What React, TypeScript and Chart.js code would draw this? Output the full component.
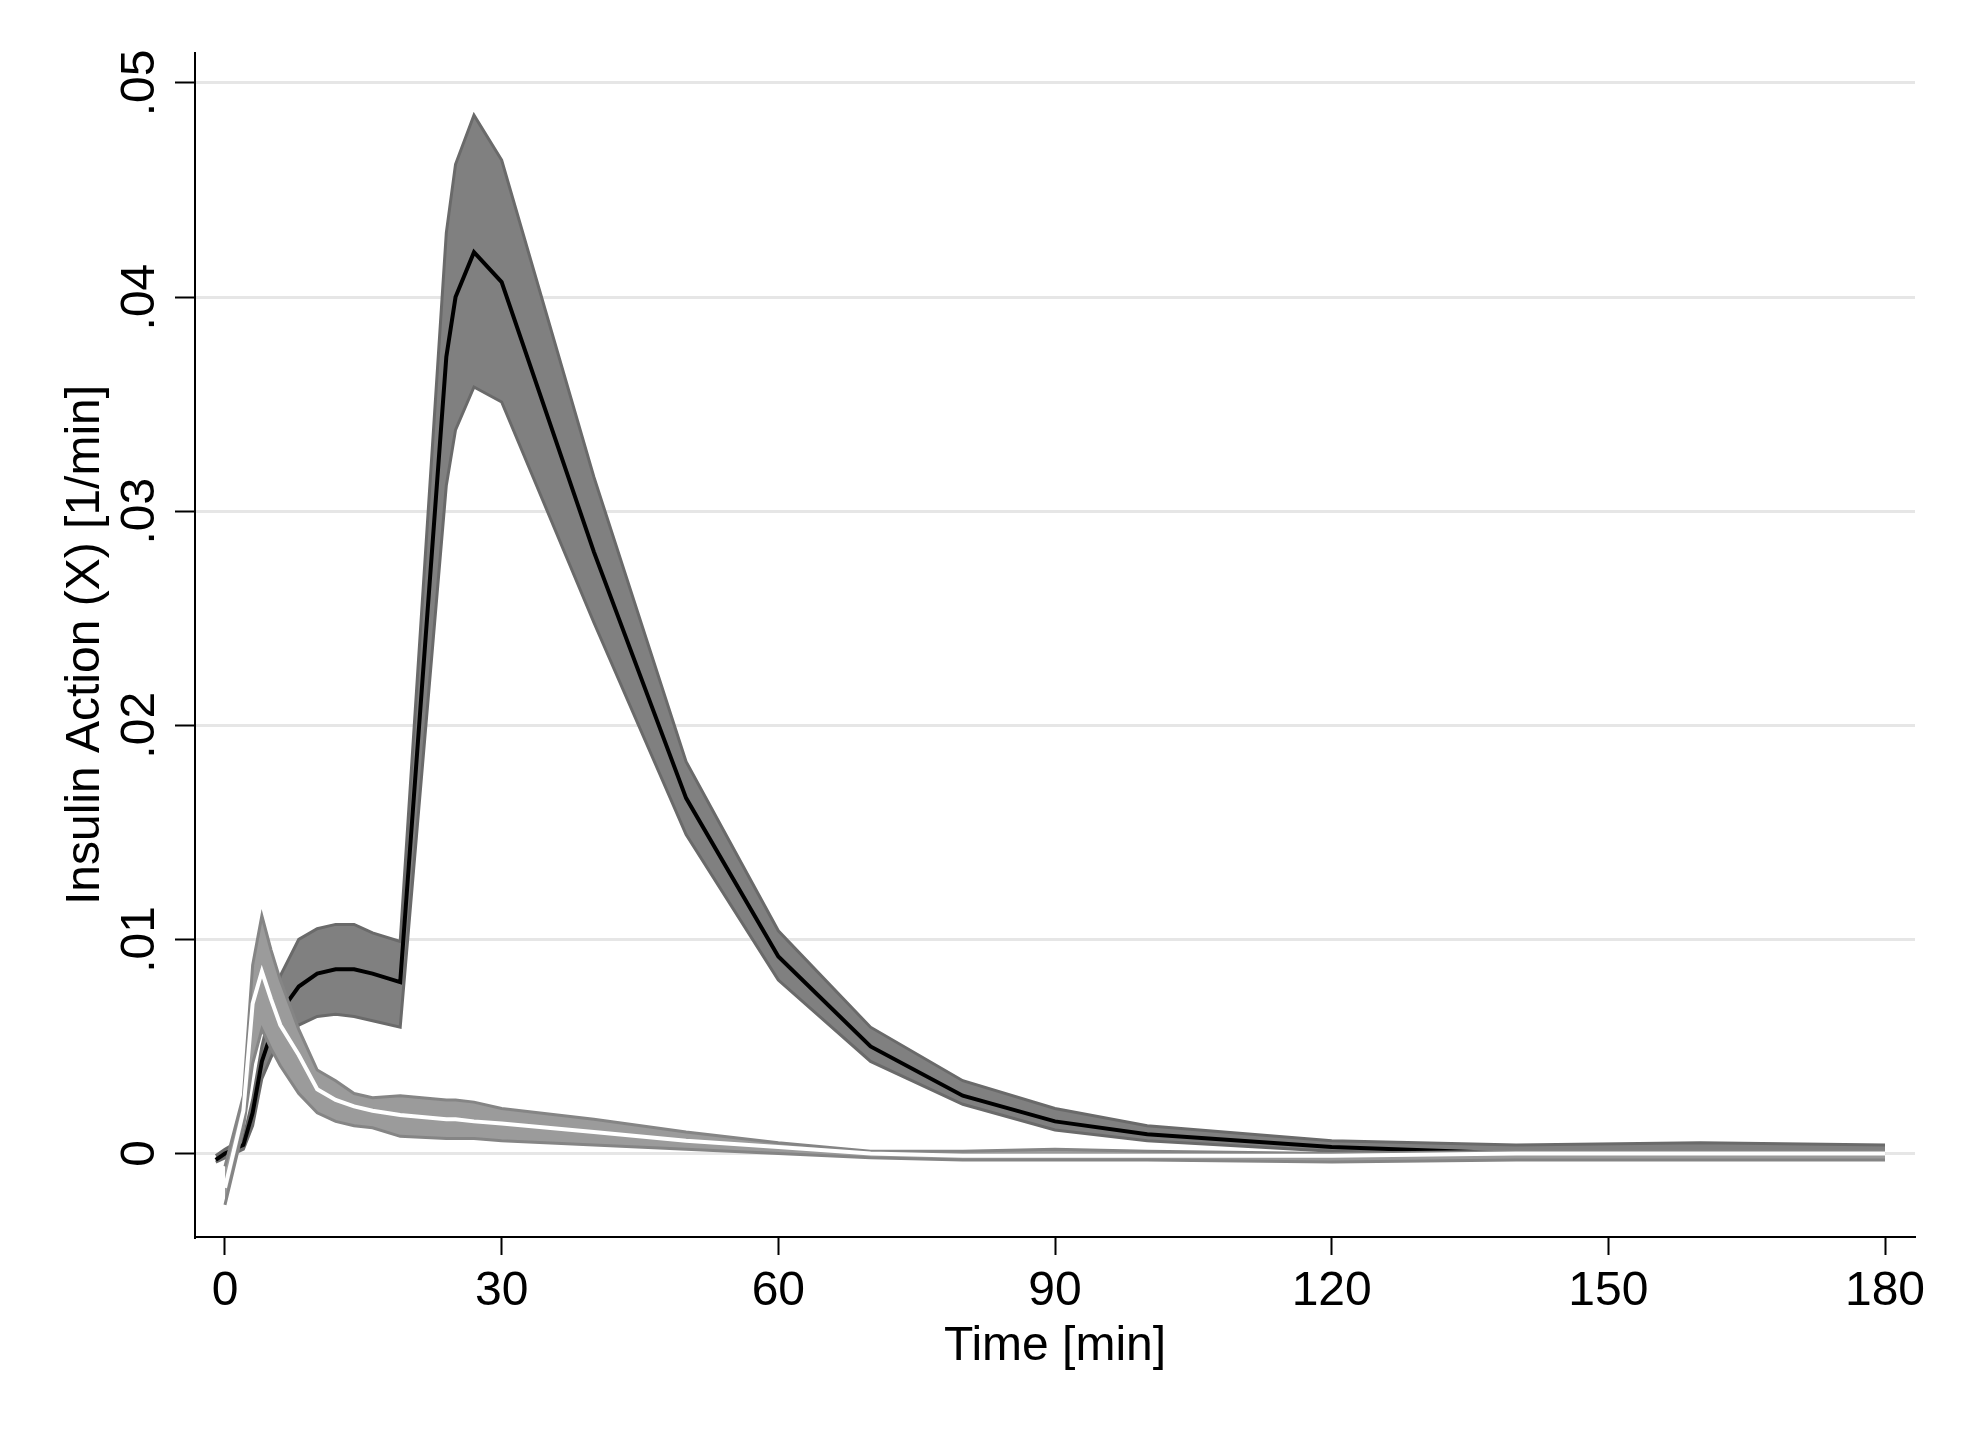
import { useEffect, useRef } from "react"
import { Chart, registerables } from "chart.js"

Chart.register(...registerables)

// sampling times [min]
const darkTimes = [-1, 0, 2, 3, 4, 5, 6, 8, 10, 12, 14, 16, 19, 24, 25, 27, 30, 40, 50, 60, 70, 80, 90, 100, 120, 140, 160, 180]
const lightTimes = [0, 2, 3, 4, 5, 6, 8, 10, 12, 14, 16, 19, 24, 25, 27, 30, 40, 50, 60, 70, 80, 90, 100, 120, 140, 160, 180]

// insulin action X [1/min], dark group (black line, dark band)
const darkMean = [-0.0003, 0.0, 0.0004, 0.0019, 0.0043, 0.0056, 0.0066, 0.0078, 0.0084, 0.0086, 0.0086, 0.0084, 0.008, 0.0372, 0.04, 0.0421, 0.0407, 0.0281, 0.0166, 0.0092, 0.005, 0.0027, 0.0015, 0.0009, 0.0003, 0.0, 0.0, 0.0]
const darkUpper = [-0.0001, 0.0002, 0.0007, 0.0025, 0.005, 0.0068, 0.0083, 0.01, 0.0105, 0.0107, 0.0107, 0.0103, 0.0099, 0.043, 0.0462, 0.0485, 0.0464, 0.0316, 0.0183, 0.0104, 0.0059, 0.0034, 0.0021, 0.0013, 0.0006, 0.0004, 0.0005, 0.0004]
const darkLower = [-0.0004, -0.0002, 0.0002, 0.0013, 0.0035, 0.0045, 0.0052, 0.006, 0.0064, 0.0065, 0.0064, 0.0062, 0.0059, 0.0312, 0.0338, 0.0358, 0.0351, 0.0248, 0.0149, 0.0081, 0.0043, 0.0023, 0.0011, 0.0006, 0.0001, -0.0001, -0.0001, -0.0001]

// light group (white line, light band)
const lightMean = [-0.0016, 0.002, 0.007, 0.0085, 0.0072, 0.006, 0.0046, 0.003, 0.0025, 0.0022, 0.002, 0.0018, 0.0016, 0.0016, 0.0015, 0.0014, 0.001, 0.0006, 0.0003, 0.0, -0.0001, -0.0001, -0.0001, -0.0001, 0.0, 0.0, 0.0]
const lightUpper = [-0.0006, 0.0027, 0.0088, 0.0111, 0.0095, 0.0081, 0.0058, 0.0039, 0.0034, 0.0028, 0.0026, 0.0027, 0.0025, 0.0025, 0.0024, 0.0021, 0.0016, 0.001, 0.0005, 0.0001, 0.0001, 0.0002, 0.0001, 0.0, 0.0001, 0.0001, 0.0001]
const lightLower = [-0.0024, 0.0012, 0.0042, 0.0058, 0.0049, 0.0041, 0.0028, 0.0019, 0.0015, 0.0013, 0.0012, 0.0008, 0.0007, 0.0007, 0.0007, 0.0006, 0.0004, 0.0002, 0.0, -0.0002, -0.0003, -0.0003, -0.0003, -0.0004, -0.0003, -0.0003, -0.0003]

const FONT = "'Liberation Sans', Arial, Helvetica, sans-serif"

const pts = (xs: number[], ys: number[]) => xs.map((x, i) => ({ x, y: ys[i] }))

export default function App() {
  const chartRef = useRef<HTMLCanvasElement>(null)
  const chartInstance = useRef<Chart | null>(null)

  useEffect(() => {
    if (!chartRef.current) return
    if (chartInstance.current) chartInstance.current.destroy()

    const line = {
      pointRadius: 0,
      tension: 0,
      borderJoinStyle: "miter" as const,
    }

    chartInstance.current = new Chart(chartRef.current, {
      type: "line",
      data: {
        datasets: [
          { ...line, label: "light mean", data: pts(lightTimes, lightMean), borderColor: "#ffffff", borderWidth: 4, fill: false, order: 1 },
          { ...line, label: "light upper", data: pts(lightTimes, lightUpper), borderColor: "#858585", borderWidth: 3, fill: false, order: 2 },
          { ...line, label: "light lower", data: pts(lightTimes, lightLower), borderColor: "#858585", borderWidth: 3, backgroundColor: "#9b9b9b", fill: 1, order: 3 },
          { ...line, label: "dark mean", data: pts(darkTimes, darkMean), borderColor: "#000000", borderWidth: 4, fill: false, order: 4 },
          { ...line, label: "dark upper", data: pts(darkTimes, darkUpper), borderColor: "#6a6a6a", borderWidth: 3, fill: false, order: 5 },
          { ...line, label: "dark lower", data: pts(darkTimes, darkLower), borderColor: "#6a6a6a", borderWidth: 3, backgroundColor: "#808080", fill: 4, order: 6 },
        ],
      },
      options: {
        responsive: false,
        animation: false,
        layout: { padding: { top: 53, right: 54, left: 0, bottom: 0 } },
        plugins: {
          legend: { display: false },
          tooltip: { enabled: false },
        },
        scales: {
          x: {
            type: "linear",
            position: "bottom",
            min: -3.25,
            max: 183.25,
            afterFit: (scale) => {
              scale.height = 196
            },
            border: { color: "#000000", width: 2 },
            grid: { drawOnChartArea: false, drawTicks: true, tickLength: 18, tickColor: "#000000", tickWidth: 2 },
            ticks: {
              stepSize: 30,
              includeBounds: false,
              autoSkip: false,
              maxRotation: 0,
              padding: 8,
              color: "#000000",
              font: { family: FONT, size: 48 },
            },
            title: {
              display: true,
              text: "Time [min]",
              color: "#000000",
              font: { family: FONT, size: 48 },
              padding: { top: 0, bottom: 57 },
            },
          },
          y: {
            type: "linear",
            position: "left",
            min: -0.0039,
            max: 0.0514,
            afterFit: (scale) => {
              scale.width = 195
            },
            border: { color: "#000000", width: 2 },
            grid: { color: "#e6e6e6", lineWidth: 3, drawTicks: true, tickLength: 20, tickColor: "#000000", tickWidth: 2 },
            ticks: {
              stepSize: 0.01,
              includeBounds: false,
              autoSkip: false,
              minRotation: 90,
              maxRotation: 90,
              crossAlign: "center",
              padding: 1,
              color: "#000000",
              font: { family: FONT, size: 48 },
              callback: (v) => {
                const n = Number(v)
                return n === 0 ? "0" : n.toFixed(2).replace(/^0\./, ".")
              },
            },
            title: {
              display: true,
              text: "Insulin Action (X) [1/min]",
              color: "#000000",
              font: { family: FONT, size: 48 },
              padding: { top: 57, bottom: 0 },
            },
          },
        },
      },
    })

    return () => {
      if (chartInstance.current) {
        chartInstance.current.destroy()
        chartInstance.current = null
      }
    }
  }, [])

  return (
    <div style={{ position: "fixed", left: 0, top: 0, width: 1969, height: 1433, background: "#ffffff" }}>
      <canvas ref={chartRef} width={1969} height={1433} style={{ display: "block" }} />
    </div>
  )
}
